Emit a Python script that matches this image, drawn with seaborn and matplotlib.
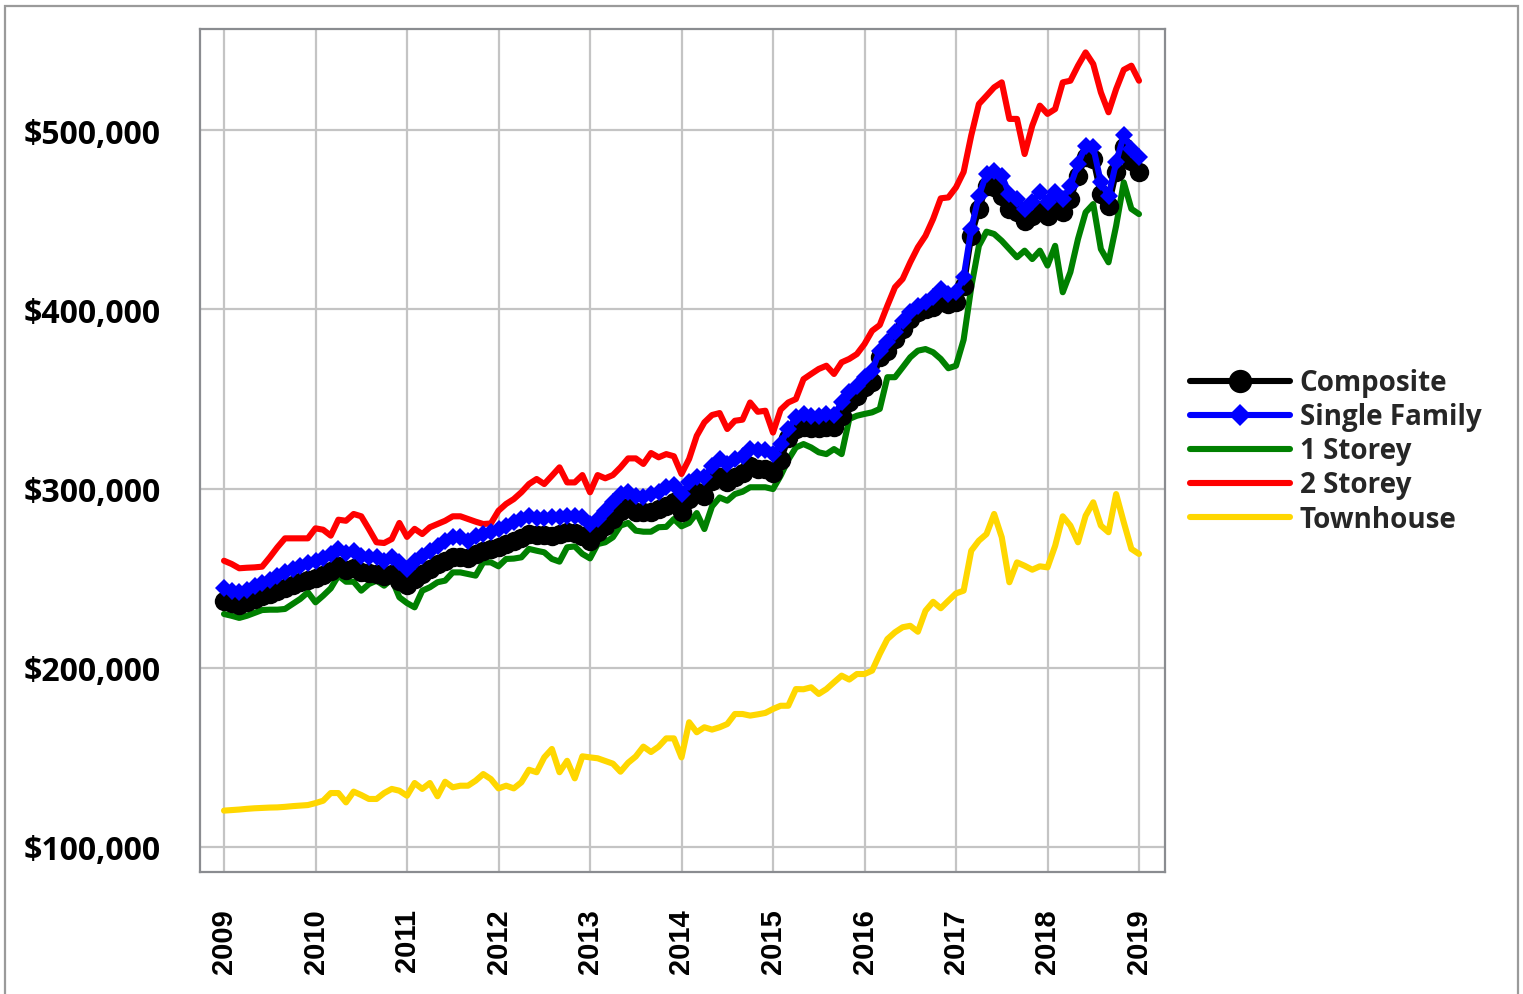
import numpy as np
import pandas as pd
import matplotlib
matplotlib.use("Agg")
import matplotlib.pyplot as plt
from matplotlib.patches import Rectangle
import seaborn as sns

# Monthly benchmark prices, Jan 2009 .. Jan 2019 (thousands of dollars)
composite = [
    237.4, 236.0, 235.0, 236.5, 238.4, 239.8, 241.2, 242.8, 244.3, 246.0, 247.7, 248.8,
    249.9, 252.0, 254.1, 256.9, 254.7, 255.5, 253.5, 253.0, 252.3, 251.0, 252.5, 248.6,
    246.0, 249.5, 252.3, 255.1, 257.9, 259.7, 261.6, 261.8, 261.5, 263.5, 265.3, 266.3,
    267.2, 269.0, 270.9, 272.2, 274.6, 273.9, 273.9, 273.7, 274.5, 275.6, 275.2, 273.7,
    270.9, 275.6, 279.3, 283.0, 287.6, 289.5, 286.7, 286.7, 286.7, 288.6, 290.4, 292.3,
    286.7, 294.1, 297.9, 296.0, 304.3, 306.2, 303.4, 306.7, 308.9, 312.6, 310.8, 310.8,
    308.9, 316.0, 328.0, 333.2, 334.1, 333.8, 333.8, 334.3, 334.3, 340.6, 348.0, 351.8,
    356.5, 359.3, 373.2, 376.9, 383.4, 389.0, 394.6, 398.3, 400.2, 401.1, 403.9, 402.9,
    404.0, 413.2, 441.0, 456.0, 468.9, 468.0, 463.3, 456.0, 454.1, 449.4, 452.2, 455.0,
    452.2, 456.0, 454.1, 461.5, 474.5, 484.9, 483.9, 464.3, 457.8, 476.6, 490.3, 482.9,
    476.6,
]
single_family = [
    244.3, 243.0, 242.1, 243.5, 245.8, 247.5, 249.1, 251.0, 253.2, 255.0, 256.9, 258.3,
    259.7, 261.5, 263.4, 266.3, 264.0, 265.3, 262.5, 261.6, 261.8, 259.7, 261.6, 258.8,
    255.1, 259.7, 262.5, 265.3, 268.1, 270.9, 272.8, 272.8, 270.9, 273.7, 274.6, 275.6,
    277.4, 278.9, 281.2, 283.0, 284.8, 283.5, 283.3, 283.9, 284.0, 284.8, 284.8, 283.9,
    280.2, 283.0, 287.6, 292.3, 296.9, 297.9, 296.0, 295.5, 296.9, 297.9, 300.7, 302.0,
    296.9, 303.4, 306.7, 306.2, 312.6, 316.5, 313.7, 316.5, 318.0, 322.1, 321.3, 321.3,
    319.2, 325.0, 333.2, 339.7, 341.6, 340.6, 340.6, 341.6, 341.0, 348.0, 353.6, 357.3,
    362.1, 365.7, 376.9, 381.6, 387.2, 393.6, 398.3, 402.0, 403.9, 406.7, 411.3, 408.5,
    409.5, 417.8, 444.8, 463.3, 475.5, 477.3, 474.5, 464.3, 461.5, 456.0, 459.7, 465.3,
    459.7, 465.3, 461.5, 468.9, 481.0, 491.2, 490.3, 470.8, 463.3, 481.9, 497.0, 489.6,
    484.9,
]
one_storey = [
    230.0, 229.0, 227.8, 229.0, 230.6, 232.2, 232.4, 232.4, 232.8, 235.6, 238.4, 242.1,
    236.5, 240.2, 244.3, 251.4, 248.0, 248.0, 243.0, 246.7, 248.6, 245.8, 249.5, 239.3,
    236.1, 233.7, 243.0, 244.9, 247.7, 248.6, 253.2, 253.2, 252.3, 251.4, 258.8, 258.8,
    256.6, 260.7, 260.9, 261.6, 266.3, 265.3, 264.4, 260.7, 259.2, 267.2, 267.7, 263.5,
    261.0, 269.0, 270.0, 272.8, 279.3, 280.8, 276.5, 275.9, 275.9, 278.4, 278.6, 283.0,
    278.9, 280.8, 286.3, 277.4, 290.0, 295.0, 293.2, 296.9, 298.2, 300.7, 300.7, 300.7,
    299.7, 307.1, 316.0, 322.9, 324.8, 322.9, 320.2, 319.2, 322.0, 319.2, 338.8, 340.6,
    341.6, 342.5, 344.4, 362.1, 362.1, 367.6, 373.2, 376.9, 377.8, 376.0, 372.3, 367.1,
    368.5, 383.0, 412.3, 435.4, 443.3, 442.0, 438.2, 433.6, 429.0, 432.7, 428.0, 432.7,
    424.4, 435.4, 409.5, 420.7, 439.2, 454.1, 458.7, 433.6, 426.2, 446.5, 470.8, 456.0,
    453.1,
]
two_storey = [
    259.7, 257.9, 255.5, 255.8, 256.0, 256.4, 261.6, 267.2, 272.2, 272.2, 272.2, 272.2,
    277.8, 277.0, 273.7, 282.6, 282.0, 285.8, 284.5, 277.4, 270.0, 269.6, 271.8, 280.8,
    273.0, 277.5, 274.6, 278.4, 280.2, 282.0, 284.5, 284.5, 283.0, 281.5, 280.2, 280.5,
    287.6, 291.4, 294.1, 297.9, 302.5, 305.3, 302.5, 307.1, 311.8, 303.4, 303.4, 307.5,
    297.9, 307.5, 305.7, 307.5, 311.8, 316.8, 316.8, 313.7, 319.8, 317.4, 319.2, 318.0,
    308.1, 316.5, 329.4, 336.9, 341.0, 342.1, 333.2, 337.8, 338.4, 348.0, 342.8, 343.4,
    331.2, 344.0, 348.0, 349.9, 361.0, 363.9, 366.7, 368.5, 363.9, 370.4, 372.3, 375.0,
    380.6, 388.0, 391.2, 402.0, 412.3, 416.9, 426.2, 434.6, 441.0, 450.4, 461.9, 462.4,
    468.0, 476.6, 497.0, 514.5, 519.1, 523.8, 526.6, 506.2, 506.2, 486.6, 502.4, 513.6,
    509.0, 511.7, 526.6, 527.5, 535.9, 543.3, 536.8, 521.0, 509.9, 522.8, 533.6, 535.9,
    527.5,
]
townhouse = [
    120.3, 120.6, 120.9, 121.3, 121.6, 121.8, 122.0, 122.1, 122.4, 122.8, 123.1, 123.4,
    124.5, 125.8, 130.1, 130.1, 124.9, 130.9, 129.0, 126.8, 126.8, 130.1, 132.4, 131.4,
    128.6, 135.7, 132.4, 135.7, 128.3, 136.4, 133.3, 134.2, 134.2, 137.0, 140.7, 137.9,
    132.7, 134.2, 132.7, 136.1, 143.1, 141.7, 150.0, 154.7, 141.7, 148.1, 138.3, 150.6,
    150.0, 149.5, 148.0, 146.5, 142.0, 147.0, 150.5, 156.0, 153.0, 156.0, 160.6, 160.6,
    150.0, 169.6, 164.0, 166.8, 165.5, 166.8, 168.6, 174.2, 174.2, 173.3, 174.0, 174.8,
    177.0, 178.8, 178.8, 188.1, 188.0, 189.1, 185.4, 188.1, 191.9, 195.6, 193.4, 196.5,
    196.5, 198.4, 207.7, 216.0, 219.8, 222.6, 223.4, 220.1, 231.8, 236.8, 233.2, 237.4,
    241.5, 243.0, 265.3, 270.9, 274.6, 285.8, 272.8, 247.7, 258.8, 256.9, 254.7, 256.6,
    256.0, 268.0, 284.5, 279.3, 270.0, 284.8, 292.3, 279.3, 275.6, 296.9, 281.2, 266.3,
    263.5,
]

years = list(range(2009, 2020))
y_ticks = [100000, 200000, 300000, 400000, 500000]
t = 2009 + np.arange(len(composite)) / 12.0

series = [
    ("Composite", composite, "#000000", "o", 14, 4),
    ("Single Family", single_family, "#0000ff", "D", 9.5, 5),
    ("1 Storey", one_storey, "#008000", None, 0, 3),
    ("2 Storey", two_storey, "#ff0000", None, 0, 2),
    ("Townhouse", townhouse, "#ffd700", None, 0, 1),
]

sns.set_style("white")
plt.rcParams["font.family"] = ["Open Sans", "DejaVu Sans"]

W, H = 1523, 995
fig = plt.figure(figsize=(W / 100, H / 100), dpi=100)
ax = fig.add_axes([200 / W, 1 - 873 / H, 965 / W, 843 / H])

for name, vals, color, marker, ms, z in series:
    df = pd.DataFrame({"date": t, "price": np.array(vals) * 1000})
    kw = dict(color=color, linewidth=4.4, label=name, zorder=z, ax=ax)
    if marker:
        kw.update(marker=marker, markersize=ms, markeredgecolor=color,
                  markerfacecolor=color, markeredgewidth=0)
    sns.lineplot(data=df, x="date", y="price", **kw)

ax.set_xlim(2009 - 24 / 91.5, 2019 + 26 / 91.5)
ax.set_ylim(100000 - 25 * 557.9, 100000 + 818 * 557.9)
ax.set_xticks(years)
ax.set_xticklabels([str(y) for y in years], rotation=90,
                   fontfamily="Liberation Sans", fontweight="bold", fontsize=21)
ax.set_yticks(y_ticks)
ax.set_yticklabels([f"${v:,.0f}" for v in y_ticks],
                   fontfamily="Open Sans", fontweight="bold", fontsize=23)
ax.set_xlabel("")
ax.set_ylabel("")

ax.grid(True, color="#c4c4c4", linewidth=1.6, zorder=0)
ax.set_axisbelow(True)
for sp in ax.spines.values():
    sp.set_color("#8a8c90")
    sp.set_linewidth(1.6)
    sp.set_visible(True)
ax.tick_params(axis="both", direction="out", length=12, width=1.6,
               color="#8a8c90", labelcolor="black")
ax.tick_params(axis="x", pad=14)
ax.tick_params(axis="y", pad=16)

leg = ax.legend(loc="center left", bbox_to_anchor=(1190 / W, 1 - 452 / H),
                bbox_transform=fig.transFigure, frameon=False,
                prop={"family": "Open Sans", "weight": "bold", "size": 20},
                handlelength=3.6, handletextpad=0.35, labelspacing=0.18,
                borderaxespad=0, borderpad=0, markerscale=1.2)

# thin frame around the whole figure
fig.patches.append(Rectangle((5 / W, -0.02), 1513 / W, 1.02 - 7 / H,
                             transform=fig.transFigure, fill=False,
                             edgecolor="#9a9a9a", linewidth=1.6))

fig.savefig("out.png", dpi=100)
